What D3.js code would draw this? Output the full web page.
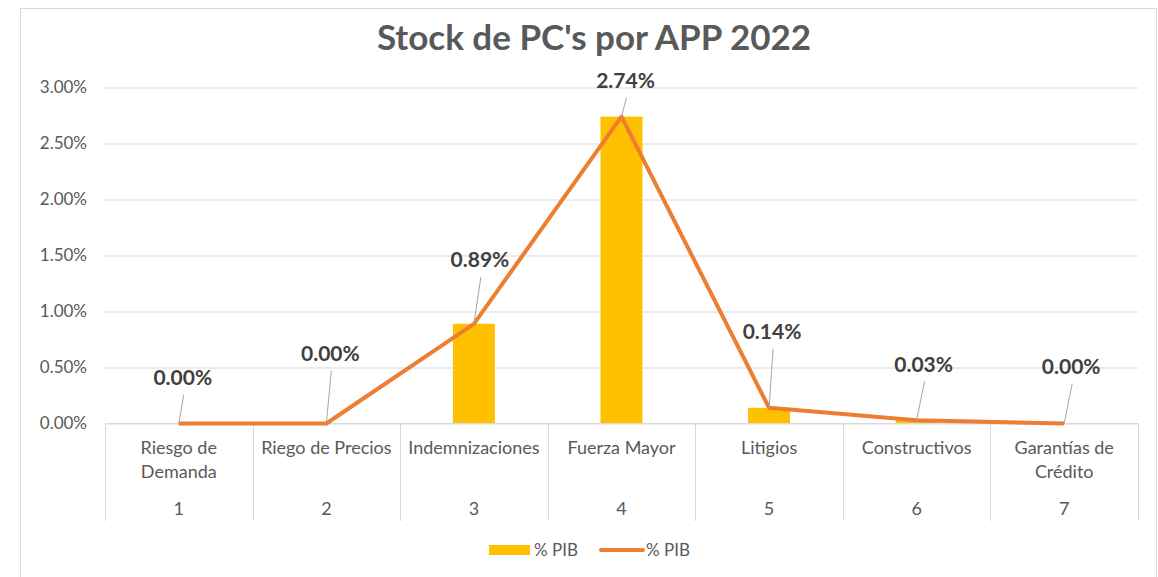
<!DOCTYPE html>
<html lang="es">
<head>
<meta charset="UTF-8">
<title>Stock de PC's por APP 2022</title>
<script src="https://d3js.org/d3.v7.min.js"></script>
<style>
  body { margin: 0; background: #fff; }
  svg text { font-family: Lato, "Noto Sans", sans-serif; }
</style>
</head>
<body>
<svg width="1158" height="577"></svg>
<script>
// data
const categories = ["Riesgo de Demanda", "Riego de Precios", "Indemnizaciones", "Fuerza Mayor", "Litigios", "Constructivos", "Garantías de Crédito"];
const categoryLines = [["Riesgo de", "Demanda"], ["Riego de Precios"], ["Indemnizaciones"], ["Fuerza Mayor"], ["Litigios"], ["Constructivos"], ["Garantías de", "Crédito"]];
const categoryNumbers = ["1", "2", "3", "4", "5", "6", "7"];
const pibBars = [0.00, 0.00, 0.89, 2.74, 0.14, 0.03, 0.00];
const pibLine = [0.00, 0.00, 0.89, 2.74, 0.14, 0.03, 0.00];
const yTicks = [0, 0.5, 1, 1.5, 2, 2.5, 3];
const seriesNames = ["% PIB", "% PIB"];

// label placement (pixel offsets from the point), like Excel's dragged labels
const labelOffsets = [[4, -46], [4, -70], [6, -64], [4, -36], [3, -76], [7, -56], [7, -57]];

const svg = d3.select("svg");
const plotLeft = 105, plotRight = 1138, plotTop = 87.5, plotBottom = 423.5;

svg.append("rect")
    .attr("x", 20.5).attr("y", 8.5)
    .attr("width", 1136).attr("height", 600)
    .attr("fill", "#fff").attr("stroke", "#d9d9d9");

svg.append("text")
    .attr("x", 594).attr("y", 50)
    .attr("text-anchor", "middle")
    .attr("font-size", 35).attr("font-weight", "bold")
    .attr("fill", "#595959")
    .text("Stock de PC's por APP 2022");

const x = d3.scaleBand().domain(categories).range([plotLeft, plotRight]);
const y = d3.scaleLinear().domain([0, 3]).range([plotBottom, plotTop]);

// y axis with gridlines
const yAxis = svg.append("g")
    .attr("transform", `translate(${plotLeft},0)`)
    .call(d3.axisLeft(y).tickValues(yTicks)
        .tickSize(-(plotRight - plotLeft)).tickPadding(18)
        .tickFormat(d => d.toFixed(2) + "%"));
yAxis.select(".domain").remove();
yAxis.selectAll("line").attr("stroke", "#d9d9d9");
yAxis.selectAll("text").attr("font-size", 17).attr("fill", "#595959");

// category axis: dividers, names, numbers
const cat = svg.append("g");
const edges = categories.map(c => x(c)).concat([plotRight]);
cat.selectAll("line.div").data(edges).join("line")
    .attr("x1", d => Math.round(d) + 0.5).attr("x2", d => Math.round(d) + 0.5)
    .attr("y1", plotBottom).attr("y2", 521)
    .attr("stroke", "#d9d9d9");

const name = cat.selectAll("text.name").data(categories).join("text")
    .attr("class", "name")
    .attr("x", d => x(d) + x.bandwidth() / 2)
    .attr("y", 454)
    .attr("text-anchor", "middle")
    .attr("font-size", 18).attr("fill", "#595959");
name.selectAll("tspan").data((d, i) => categoryLines[i]).join("tspan")
    .attr("x", function () { return this.parentNode.getAttribute("x"); })
    .attr("dy", (d, i) => i === 0 ? 0 : 23.5)
    .text(d => d);

cat.selectAll("text.num").data(categories).join("text")
    .attr("class", "num")
    .attr("x", d => x(d) + x.bandwidth() / 2)
    .attr("y", 515)
    .attr("text-anchor", "middle")
    .attr("font-size", 18).attr("fill", "#595959")
    .text((d, i) => categoryNumbers[i]);

// bars
const barW = 42;
svg.append("g").selectAll("rect").data(pibBars).join("rect")
    .attr("x", (d, i) => x(categories[i]) + x.bandwidth() / 2 - barW / 2)
    .attr("y", d => y(d))
    .attr("width", barW)
    .attr("height", d => plotBottom - y(d))
    .attr("fill", "#ffc000");

// axis baseline
svg.append("line")
    .attr("x1", plotLeft).attr("x2", plotRight)
    .attr("y1", plotBottom).attr("y2", plotBottom)
    .attr("stroke", "#d9d9d9");

// line
const line = d3.line()
    .x((d, i) => x(categories[i]) + x.bandwidth() / 2)
    .y(d => y(d));
svg.append("path").datum(pibLine)
    .attr("d", line)
    .attr("fill", "none")
    .attr("stroke", "#ed7d31")
    .attr("stroke-width", 4)
    .attr("stroke-linejoin", "round");

// data labels with leader lines
const lab = svg.append("g");
pibLine.forEach((v, i) => {
    const px = x(categories[i]) + x.bandwidth() / 2, py = y(v);
    const lx = px + labelOffsets[i][0], ly = py + labelOffsets[i][1];
    lab.append("line")
        .attr("x1", lx + 1).attr("y1", ly + 17)
        .attr("x2", px).attr("y2", py)
        .attr("stroke", "#a6a6a6").attr("stroke-width", 1);
    lab.append("text")
        .attr("x", lx).attr("y", ly + 7.5)
        .attr("text-anchor", "middle")
        .attr("font-size", 21).attr("font-weight", "bold")
        .attr("fill", "#404040")
        .text(v.toFixed(2) + "%");
});

// legend
const leg = svg.append("g").attr("font-size", 17).attr("fill", "#595959");
leg.append("rect").attr("x", 489).attr("y", 545).attr("width", 41).attr("height", 10).attr("fill", "#ffc000");
leg.append("text").attr("x", 534).attr("y", 556).text(seriesNames[0]);
leg.append("line").attr("x1", 601).attr("x2", 643).attr("y1", 550).attr("y2", 550)
    .attr("stroke", "#ed7d31").attr("stroke-width", 4).attr("stroke-linecap", "round");
leg.append("text").attr("x", 646).attr("y", 556).text(seriesNames[1]);
</script>
</body>
</html>
